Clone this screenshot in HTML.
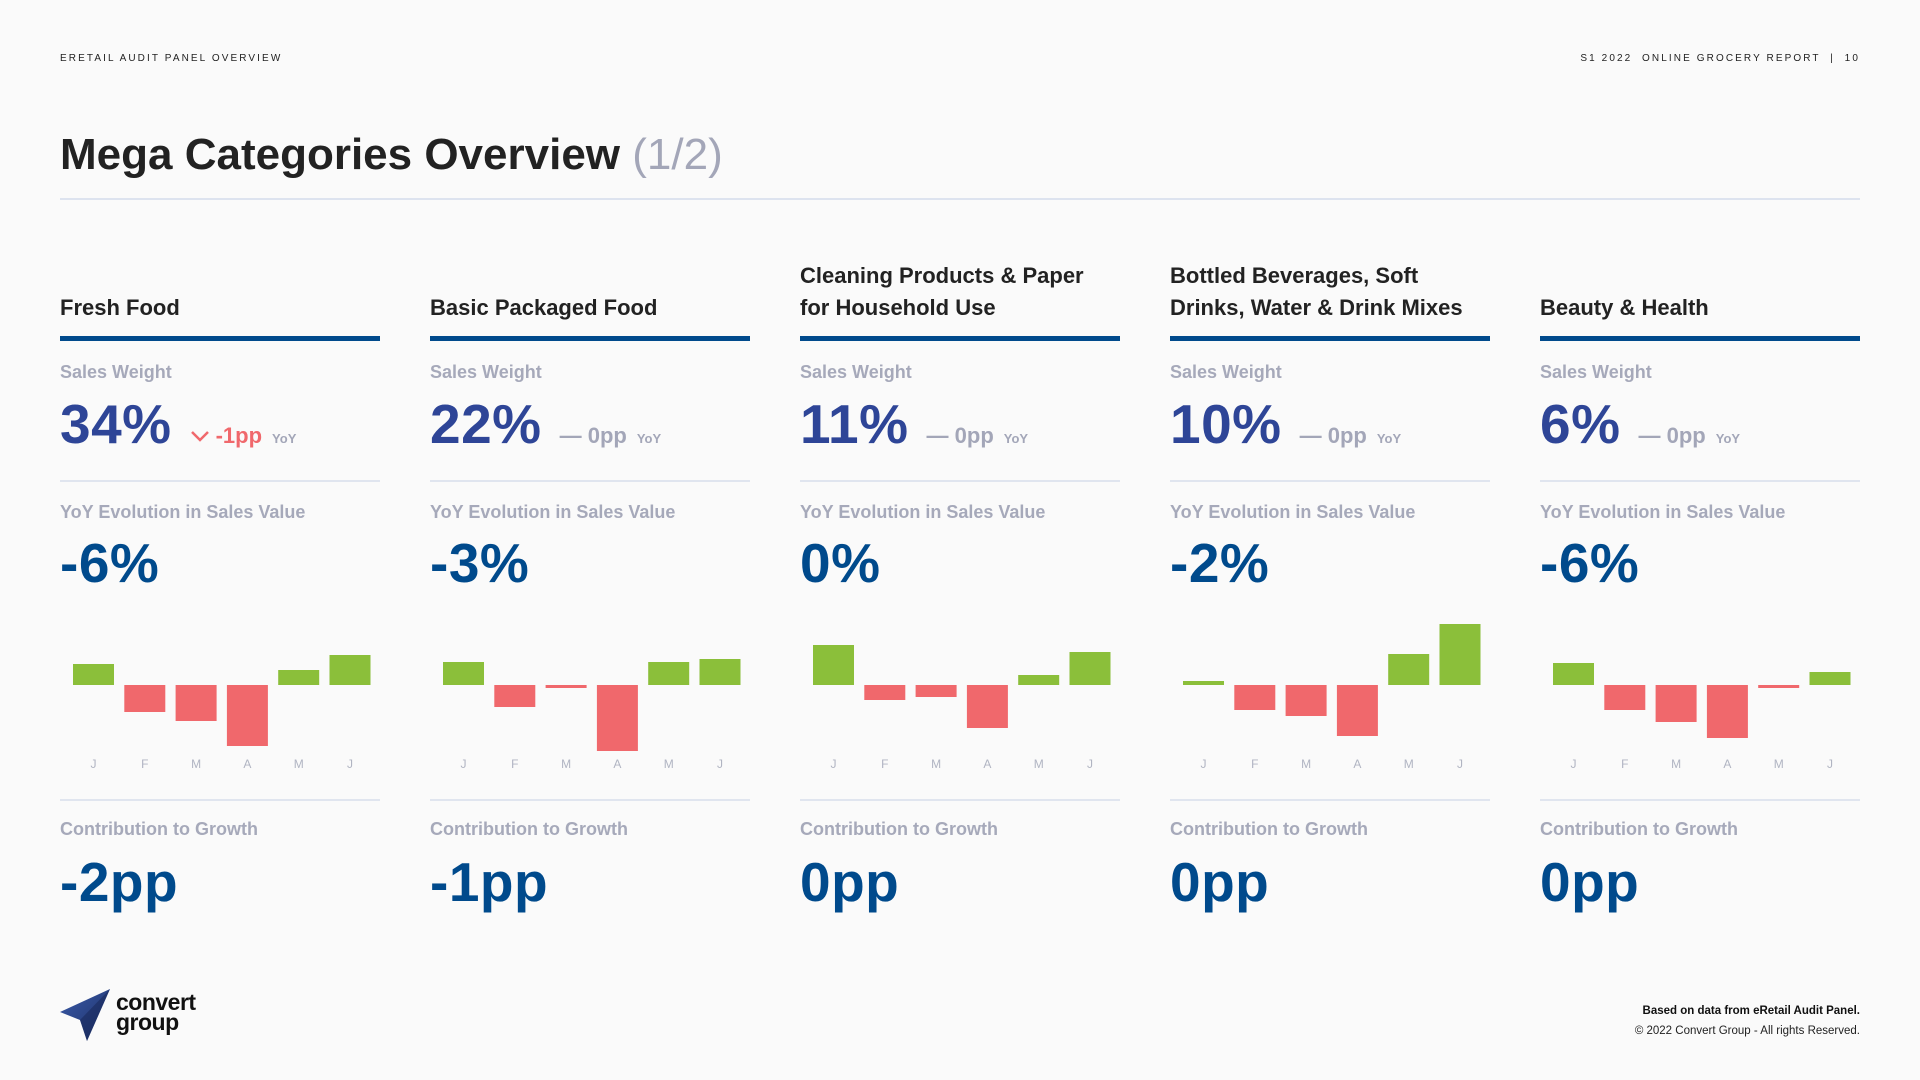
<!DOCTYPE html>
<html><head><meta charset="utf-8"><style>
*{margin:0;padding:0;box-sizing:border-box}
body{width:1920px;height:1080px;background:#fafafa;position:relative;overflow:hidden;font-family:"Liberation Sans",Arial,sans-serif;}
.a{position:absolute;white-space:nowrap}
.hdr{font-size:10px;letter-spacing:2.1px;color:#222;top:53px;line-height:12px}
.col{position:absolute;top:0;width:320px;height:1080px}
.ct{position:absolute;left:0;bottom:calc(1080px - 324px);font-size:22px;font-weight:bold;color:#222;line-height:32px;white-space:nowrap}
.bar{position:absolute;left:0;top:336px;width:320px;height:5px;background:#004a8c}
.lbl{position:absolute;left:0;font-size:18px;font-weight:bold;color:#a6a9ba;line-height:22px;white-space:nowrap}
.sep{position:absolute;left:0;width:320px;height:2px;background:#e0e5ef}
.big{position:absolute;left:0;font-size:55px;font-weight:bold;line-height:60px;white-space:nowrap;letter-spacing:0.5px}
.sw{color:#2e4597}
.dv{color:#004a8c}
.chg{font-size:22px;font-weight:bold;color:#a3a6b8;margin-left:18px;vertical-align:baseline;letter-spacing:0}
.yoy{font-size:13px;color:#a3a6b8;margin-left:10px;letter-spacing:0}
.chart{position:absolute;left:0;top:600px;width:320px;height:180px}
</style></head><body>
<div class="a hdr" style="left:60px">ERETAIL AUDIT PANEL OVERVIEW</div>
<div class="a hdr" style="right:60px">S1 2022 &nbsp;ONLINE GROCERY REPORT &nbsp;| &nbsp;10</div>
<div class="a" style="left:60px;top:127px;font-size:44px;font-weight:bold;color:#222;line-height:56px">Mega Categories Overview <span style="font-weight:normal;color:#a3a6b8">(1/2)</span></div>
<div class="a" style="left:60px;top:198px;width:1800px;height:2px;background:#dde3ef"></div>

<div class="col" style="left:60px">
<div class="ct">Fresh Food</div><div class="bar"></div>
<div class="lbl" style="top:361px">Sales Weight</div>
<div class="big sw" style="top:394px">34%<span class="chg" style="color:#f0686c"><svg width="20" height="14" viewBox="0 0 20 14" style="margin-right:6px"><polyline points="2,3 10,11 18,3" fill="none" stroke="#f0686c" stroke-width="2.5"/></svg>-1pp</span><span class="yoy">YoY</span></div>
<div class="sep" style="top:480px"></div>
<div class="lbl" style="top:501px">YoY Evolution in Sales Value</div>
<div class="big dv" style="top:533px">-6%</div>
<svg class="chart" viewBox="0 0 320 180"></svg>
<div class="sep" style="top:799px"></div>
<div class="lbl" style="top:818px">Contribution to Growth</div>
<div class="big dv" style="top:852px">-2pp</div>
</div>

<div class="col" style="left:430px">
<div class="ct">Basic Packaged Food</div><div class="bar"></div>
<div class="lbl" style="top:361px">Sales Weight</div>
<div class="big sw" style="top:394px">22%<span class="chg">— 0pp</span><span class="yoy">YoY</span></div>
<div class="sep" style="top:480px"></div>
<div class="lbl" style="top:501px">YoY Evolution in Sales Value</div>
<div class="big dv" style="top:533px">-3%</div>
<svg class="chart" viewBox="0 0 320 180"></svg>
<div class="sep" style="top:799px"></div>
<div class="lbl" style="top:818px">Contribution to Growth</div>
<div class="big dv" style="top:852px">-1pp</div>
</div>

<div class="col" style="left:800px">
<div class="ct">Cleaning Products &amp; Paper<br>for Household Use</div><div class="bar"></div>
<div class="lbl" style="top:361px">Sales Weight</div>
<div class="big sw" style="top:394px">11%<span class="chg">— 0pp</span><span class="yoy">YoY</span></div>
<div class="sep" style="top:480px"></div>
<div class="lbl" style="top:501px">YoY Evolution in Sales Value</div>
<div class="big dv" style="top:533px">0%</div>
<svg class="chart" viewBox="0 0 320 180"></svg>
<div class="sep" style="top:799px"></div>
<div class="lbl" style="top:818px">Contribution to Growth</div>
<div class="big dv" style="top:852px">0pp</div>
</div>

<div class="col" style="left:1170px">
<div class="ct">Bottled Beverages, Soft<br>Drinks, Water &amp; Drink Mixes</div><div class="bar"></div>
<div class="lbl" style="top:361px">Sales Weight</div>
<div class="big sw" style="top:394px">10%<span class="chg">— 0pp</span><span class="yoy">YoY</span></div>
<div class="sep" style="top:480px"></div>
<div class="lbl" style="top:501px">YoY Evolution in Sales Value</div>
<div class="big dv" style="top:533px">-2%</div>
<svg class="chart" viewBox="0 0 320 180"></svg>
<div class="sep" style="top:799px"></div>
<div class="lbl" style="top:818px">Contribution to Growth</div>
<div class="big dv" style="top:852px">0pp</div>
</div>

<div class="col" style="left:1540px">
<div class="ct">Beauty &amp; Health</div><div class="bar"></div>
<div class="lbl" style="top:361px">Sales Weight</div>
<div class="big sw" style="top:394px">6%<span class="chg">— 0pp</span><span class="yoy">YoY</span></div>
<div class="sep" style="top:480px"></div>
<div class="lbl" style="top:501px">YoY Evolution in Sales Value</div>
<div class="big dv" style="top:533px">-6%</div>
<svg class="chart" viewBox="0 0 320 180"></svg>
<div class="sep" style="top:799px"></div>
<div class="lbl" style="top:818px">Contribution to Growth</div>
<div class="big dv" style="top:852px">0pp</div>
</div>

<svg class="a" style="left:60px;top:988px" width="52" height="54" viewBox="0 0 52 54">
<defs><linearGradient id="g" x1="0" y1="0" x2="1" y2="1"><stop offset="0" stop-color="#3a5aa8"/><stop offset="1" stop-color="#1c2f66"/></linearGradient></defs>
<polygon points="50,1 0,24 20,32 27,53" fill="url(#g)"/>
<polygon points="50,1 20,32 27,53" fill="#17285a" opacity="0.55"/>
</svg>
<div class="a" style="left:116px;top:992px;font-size:23px;font-weight:bold;line-height:20px;color:#111;letter-spacing:-0.5px">convert<br>group</div>
<div class="a" style="right:60px;top:1004px;font-size:11.5px;font-weight:bold;color:#111;text-align:right;line-height:14px">Based on data from eRetail Audit Panel.</div>
<div class="a" style="right:60px;top:1024px;font-size:11.5px;color:#222;text-align:right;line-height:14px">© 2022 Convert Group - All rights Reserved.</div>

<script>
var data=[[21,-27,-36,-61,15,30],[23,-22,-3,-66,23,26],[40,-15,-12,-43,10,33],[4,-25,-31,-51,31,61],[22,-25,-37,-53,-3,13]];
var m=["J","F","M","A","M","J"];
var svgs=document.querySelectorAll('svg.chart');
svgs.forEach(function(s,i){var h='';var z=85;
data[i].forEach(function(v,k){var x=13+k*51.3;var y=v>0?z-v:z;var hh=Math.max(Math.abs(v),3);
h+='<rect x="'+x+'" y="'+y+'" width="41" height="'+hh+'" fill="'+(v>0?'#8bbf3a':'#f0686c')+'"/>';
h+='<text x="'+(x+20.5)+'" y="168" font-size="12" fill="#b0b4c2" text-anchor="middle" font-family="Liberation Sans, sans-serif">'+m[k]+'</text>';});
s.innerHTML=h;});
</script>
</body></html>
